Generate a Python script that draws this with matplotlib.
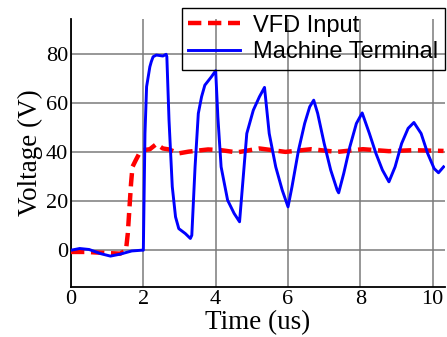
import matplotlib
matplotlib.use("Agg")
import matplotlib.pyplot as plt
import numpy as np

# Machine Terminal (blue)
t_mach = [0.0, 0.24, 0.5, 0.82, 1.09, 1.36, 1.68, 1.95, 2.0, 2.045, 2.09, 2.18, 2.22, 2.27,
          2.36, 2.54, 2.63, 2.65, 2.71, 2.80, 2.89, 2.98, 3.16, 3.30, 3.34, 3.43, 3.52, 3.61,
          3.70, 3.88, 4.0, 4.06, 4.15, 4.33, 4.51, 4.66, 4.77, 4.86, 5.04, 5.21, 5.35, 5.48,
          5.66, 5.84, 6.0, 6.11, 6.29, 6.46, 6.6, 6.71, 6.82, 7.0, 7.18, 7.36, 7.4, 7.54,
          7.71, 7.89, 8.05, 8.25, 8.43, 8.61, 8.79, 8.96, 9.14, 9.32, 9.48, 9.68, 9.86,
          10.04, 10.16, 10.3]
v_mach = [0.0, 0.7, 0.3, -1.4, -2.4, -1.6, -0.3, 0.0, 0.0, 47.6, 66.7, 74.8, 76.9, 78.9,
          79.6, 79.2, 79.9, 78.9, 53.0, 25.9, 13.6, 8.8, 6.8, 4.8, 6.1, 34.0, 55.8, 62.6,
          67.3, 70.7, 73.2, 54.4, 34.0, 20.4, 15.0, 11.6, 31.3, 47.6, 57.1, 62.6, 66.4, 47.6,
          34.0, 24.5, 17.7, 25.9, 40.8, 51.7, 58.5, 61.2, 55.8, 43.5, 32.7, 24.5, 23.4, 31.3,
          42.2, 51.7, 56.0, 47.6, 39.5, 32.7, 27.9, 34.0, 43.5, 49.7, 52.1, 47.6, 39.5,
          33.3, 31.6, 34.0]

# VFD Input (red dashed)
t_vfd = [0.0, 0.4, 0.93, 1.36, 1.52, 1.57, 1.63, 1.66, 1.70, 1.79, 1.89, 2.0, 2.18, 2.36,
         2.54, 2.71, 2.98, 3.25, 3.79, 4.15, 4.59, 5.21, 5.93, 6.64, 7.36, 8.07, 8.79,
         9.46, 10.3]
v_vfd = [-0.7, -0.7, -1.1, -1.4, 0.0, 6.8, 20.4, 27.2, 34.0, 36.7, 39.5, 40.8, 41.2, 43.3,
         41.5, 41.1, 39.5, 40.2, 41.1, 40.8, 39.9, 41.5, 40.1, 41.2, 40.1, 41.2, 40.4,
         40.8, 40.5]

x_ticks = [0, 2, 4, 6, 8, 10]
y_ticks = [0, 20, 40, 60, 80]

fig = plt.figure(figsize=(4.47, 3.37), dpi=100)
ax = fig.add_axes([71/447, 50/337, 374/447, 268/337])

ax.plot(t_vfd, v_vfd, color='#ff0000', lw=3.2, dashes=(3, 1.5), label='VFD Input', zorder=3)
ax.plot(t_mach, v_mach, color='#0000ff', lw=2.1, label='Machine Terminal', zorder=4)

ax.set_xlim(0, 10.34)
ax.set_ylim(-15, 94.3)
ax.set_xticks(x_ticks)
ax.set_yticks(y_ticks)
ax.grid(True, color='#7a7a7a', lw=1.1)
ax.set_axisbelow(True)
for s in ['top', 'right']:
    ax.spines[s].set_visible(False)
for s in ['left', 'bottom']:
    ax.spines[s].set_linewidth(1.3)
ax.tick_params(length=0, pad=2, labelsize=16)
for lab in ax.get_xticklabels() + ax.get_yticklabels():
    lab.set_fontfamily('Liberation Serif')

ax.set_xlabel('Time (us)', fontsize=19.5, fontfamily='Liberation Serif', labelpad=1)
ax.set_ylabel('Voltage (V)', fontsize=19.5, fontfamily='Liberation Serif', labelpad=2)

leg = ax.legend(loc='upper right', bbox_to_anchor=(1.0, 1.041), borderaxespad=0,
                prop={'family': 'Liberation Sans', 'size': 17}, frameon=True,
                fancybox=False, edgecolor='black', facecolor='none', handlelength=2.2,
                handletextpad=0.55, borderpad=0.28, labelspacing=0.2)
leg.get_frame().set_linewidth(1.0)
leg.get_frame().set_alpha(None)

fig.savefig('out.png', dpi=100)
